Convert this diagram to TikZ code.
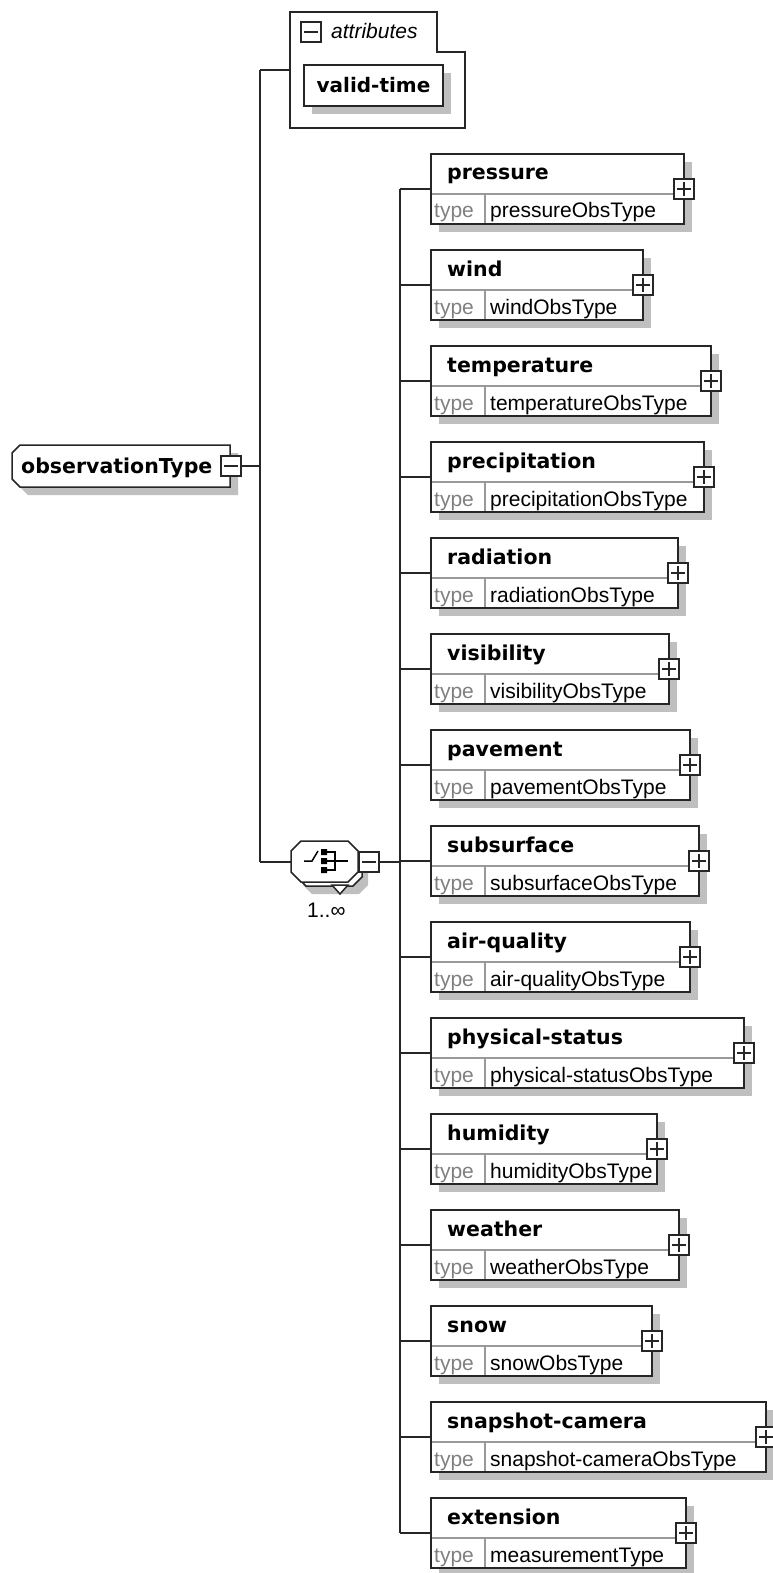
\documentclass[tikz,border=0pt]{standalone}
\usepackage{fontspec}
\setmainfont{DejaVu Sans}
\newfontfamily\typefont{Liberation Sans}
\usetikzlibrary{calc,positioning}
\tikzset{
  xsd line/.style={black!85,line width=1.5pt},
  xsd box/.style={draw=black!85,line width=1.5pt,fill=white,inner sep=0pt,outer sep=0pt,anchor=north west},
  xsd shadow/.style={fill=black!25},
  xsd divider/.style={black!40,line width=1.2pt},
  name text/.style={font=\fontsize{20.5}{24}\selectfont\bfseries,inner sep=0pt,anchor=base west},
  type text/.style={font=\typefont\fontsize{21}{24}\selectfont,inner sep=0pt,anchor=base west},
  type label/.style={type text,text=black!50},
  sign box/.style={draw=black!85,line width=1.3pt,fill=white,minimum size=20pt,inner sep=0pt,outer sep=0pt},
  plus box/.style={sign box,
    path picture={
      \draw[line width=1.3pt] ([xshift=3pt]path picture bounding box.west) -- ([xshift=-3pt]path picture bounding box.east);
      \draw[line width=1.3pt] ([yshift=-3pt]path picture bounding box.north) -- ([yshift=3pt]path picture bounding box.south);}},
  minus box/.style={sign box,
    path picture={
      \draw[line width=1.3pt] ([xshift=3pt]path picture bounding box.west) -- ([xshift=-3pt]path picture bounding box.east);}},
}
\begin{document}
\begin{tikzpicture}[x=1pt,y=-1pt]
  \useasboundingbox (0,0) rectangle (773,1573);
  % root element
  \fill[xsd shadow] (28,453) -- (238,453) -- (238,495) -- (28,495) -- (20,487) -- (20,461) -- cycle;
  \draw[xsd line,fill=white] (20,445) -- (230,445) -- (230,487) -- (20,487) -- (12,479) -- (12,453) -- cycle;
  \node[name text] (obs) at (21,473) {observationType};
  \node[minus box] (obsminus) at (231,466) {};
  \coordinate (mtop) at (260,70);
  \coordinate (mbot) at (260,862);
  \draw[xsd line] (obsminus.east) -- (obsminus.east -| mtop);
  \draw[xsd line] (mtop) -- (mbot);
  % attributes
  \coordinate (attrin) at (290,70);
  \draw[xsd line] (mtop) -- (attrin);
  \draw[xsd line,fill=white] (290,12) -- (437,12) -- (437,52) -- (465,52) -- (465,128) -- (290,128) -- cycle;
  \node[minus box] (attrminus) at (311,32) {};
  \node[type text,font=\typefont\fontsize{21}{24}\selectfont\itshape] (attrlabel) at (331,39) {attributes};
  \fill[xsd shadow] (312,73) rectangle (451,114);
  \node[xsd box,minimum width=139pt,minimum height=41pt,font=\fontsize{20}{24}\selectfont\bfseries] (validtime) at (304,65) {valid-time};
  % sequence compositor
  \coordinate (seqin) at (292,862);
  \draw[xsd line] (mbot) -- (seqin);
  \fill[xsd shadow] (312,853) -- (359,853) -- (368,862) -- (368,885) -- (359,894) -- (312,894) -- (303,885) -- (303,862) -- cycle;
  \draw[xsd line,fill=white] (306,847) -- (353,847) -- (362,856) -- (362,877) -- (353,886) -- (306,886) -- (297,877) -- (297,856) -- cycle;
  \draw[xsd line,fill=white] (332,885) -- (348,885) -- (340,894) -- cycle;
  \draw[xsd line,fill=white] (301,841) -- (348,841) -- (358,851) -- (358,872) -- (348,882) -- (301,882) -- (291,872) -- (291,851) -- cycle;
  \draw[line width=1.5pt] (304,861) -- (312,861) -- (318,851);
  \fill (321,849) rectangle (327,855) (321,858) rectangle (327,864) (321,867) rectangle (327,873);
  \draw[line width=1.5pt] (327,852) -- (335,852) -- (335,870) -- (327,870);
  \draw[line width=1.5pt] (327,861) -- (348,861);
  \node[minus box] (seqminus) at (369,862) {};
  \node[type text] (seqcard) at (307,917) {1..∞};
  \coordinate (spine) at (400,862);
  \draw[xsd line] (seqminus.east) -- (spine);
  % child elements
  \foreach \name/\type/\r [count=\i from 0] in {
      pressure/pressureObsType/684,
      wind/windObsType/643,
      temperature/temperatureObsType/711,
      precipitation/precipitationObsType/704,
      radiation/radiationObsType/678,
      visibility/visibilityObsType/669,
      pavement/pavementObsType/690,
      subsurface/subsurfaceObsType/699,
      air-quality/air-qualityObsType/690,
      physical-status/physical-statusObsType/744,
      humidity/humidityObsType/657,
      weather/weatherObsType/679,
      snow/snowObsType/652,
      snapshot-camera/snapshot-cameraObsType/766,
      extension/measurementType/686}{
    \pgfmathsetmacro{\t}{154+96*\i}
    \pgfmathsetmacro{\w}{\r-431}
    \fill[xsd shadow] (439,\t+8) rectangle (\r+8,\t+78);
    \node[xsd box,minimum width=\w pt,minimum height=70pt] (e-\i) at (431,\t) {};
    \draw[xsd divider] (432,\t+40) -- (\r-1,\t+40);
    \draw[xsd divider] (485,\t+40) -- (485,\t+69);
    \node[name text] (n-\i) at (447,\t+26) {\name};
    \node[type label] (l-\i) at (434,\t+64) {type};
    \node[type text] (t-\i) at (490,\t+64) {\type};
    \node[plus box] (p-\i) at (\r,\t+35) {};
    \coordinate (j-\i) at (400,\t+35);
    \draw[xsd line] (j-\i) -- (e-\i.west);
  }
  \draw[xsd line] (j-0) -- (j-14);
\end{tikzpicture}
\end{document}
